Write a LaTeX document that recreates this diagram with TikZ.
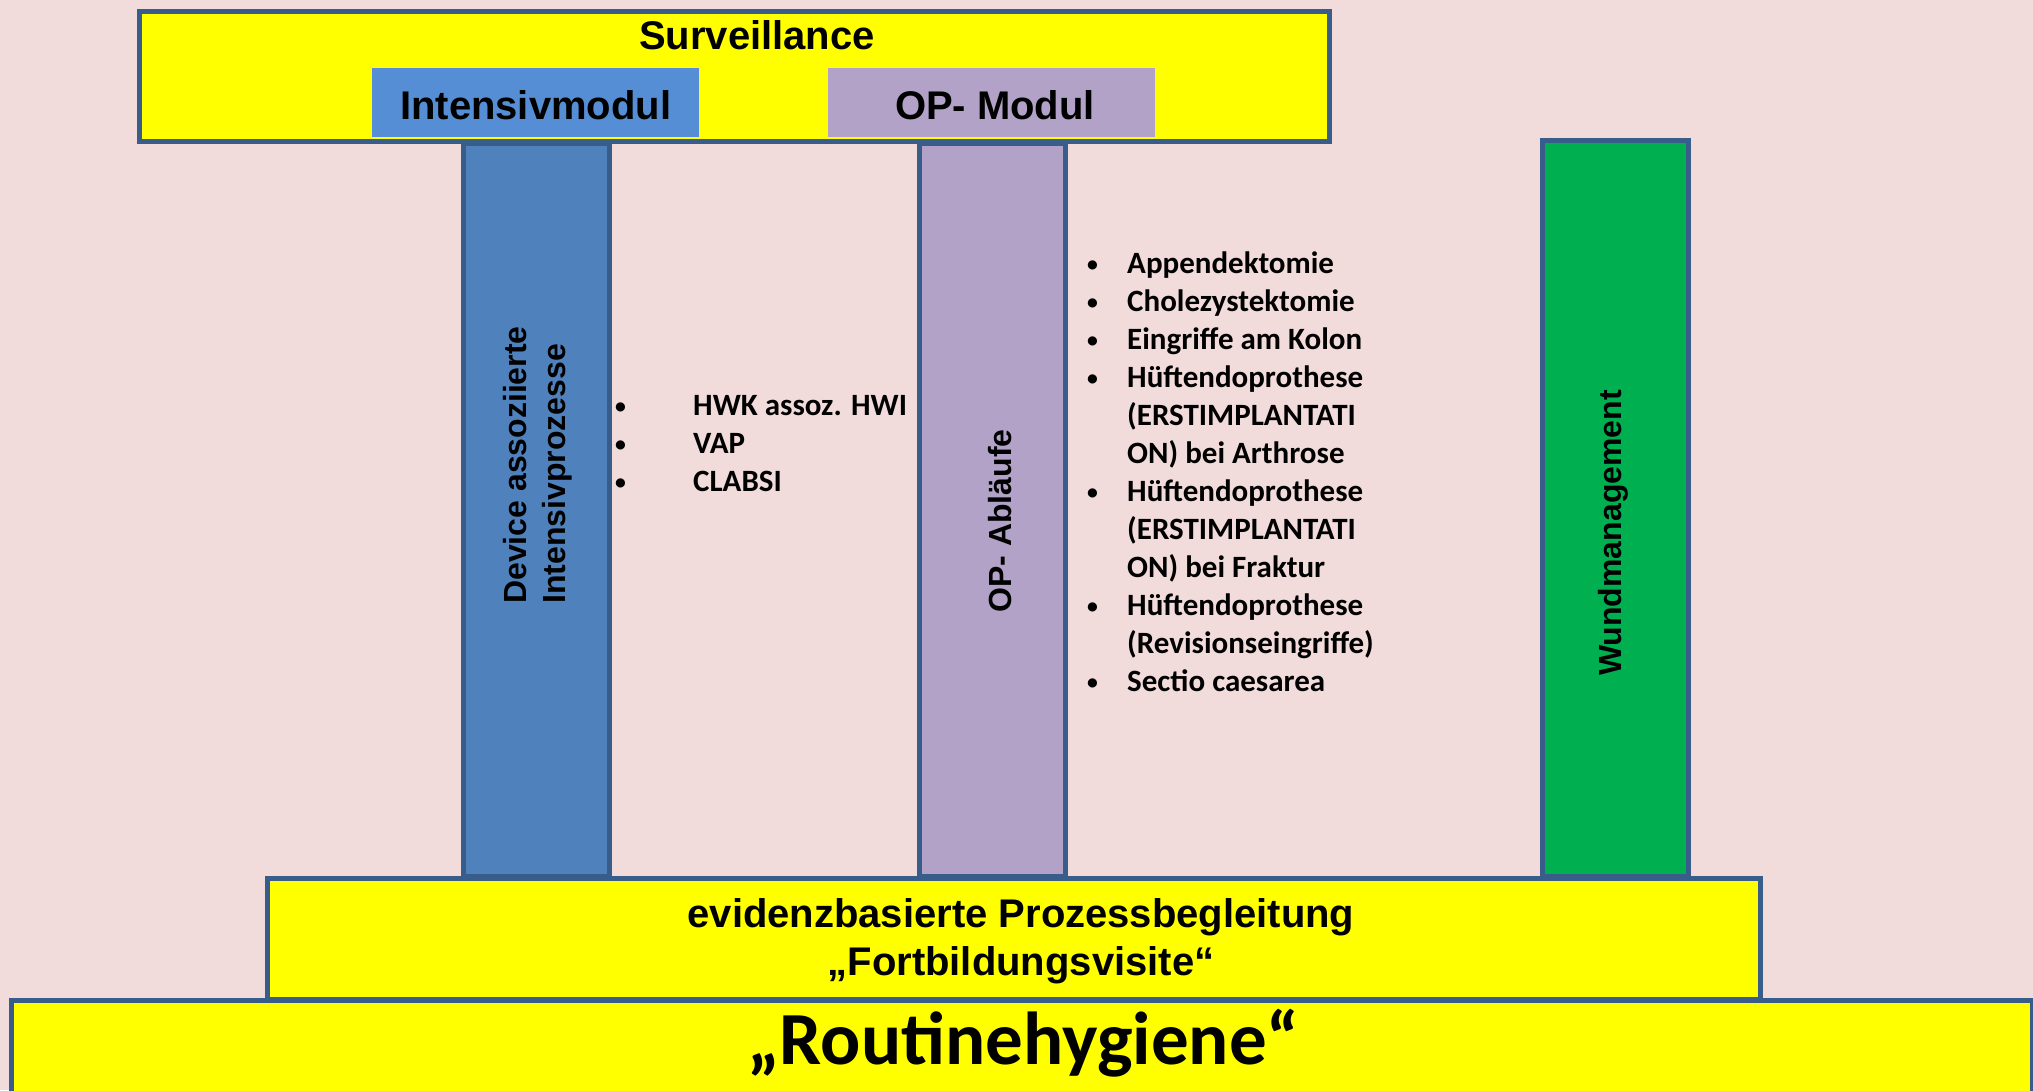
\documentclass[tikz,border=0pt]{standalone}
\usepackage{fontspec}
\setmainfont{Carlito}
\newfontfamily\arialfont{Liberation Sans}
\usetikzlibrary{positioning}

\definecolor{bgpink}{HTML}{F2DCDB}
\definecolor{rimblue}{HTML}{385D8A}
\definecolor{baryellow}{HTML}{FFFF00}
\definecolor{headblue}{HTML}{558ED5}
\definecolor{pilblue}{HTML}{4F81BD}
\definecolor{oplila}{HTML}{B3A2C7}
\definecolor{wundgreen}{HTML}{00B050}

\tikzset{
  box/.style={draw=rimblue, line width=5pt, fill=baryellow, inner sep=0pt, anchor=north west},
  pillar/.style={box, fill=#1, minimum width=146pt, minimum height=733pt},
  modhead/.style={fill=#1, inner sep=0pt, anchor=north west, minimum width=327pt, minimum height=69pt},
  head/.style={inner sep=0pt, anchor=base, font=\arialfont\bfseries\fontsize{40}{48}\selectfont},
  vlabel/.style={rotate=90, inner sep=0pt, align=left, font=\arialfont\bfseries\fontsize{32}{39}\selectfont},
  item/.style={inner sep=0pt, anchor=base west, font=\bfseries\fontsize{31}{38}\selectfont},
}
\newcommand{\smalldot}{\raisebox{2pt}{\scalebox{0.7}{\textbullet}}}
\newcommand{\dotA}{\makebox[78pt][l]{\smalldot}}
\newcommand{\dotB}{\makebox[40pt][l]{\smalldot}}

\begin{document}
\begin{tikzpicture}[x=1pt, y=-1pt]
\useasboundingbox (0,0) rectangle (2033,1090);
\fill[bgpink] (0,0) rectangle (2033,1090);

% top bar with the two modules
\node[box, minimum width=1190pt, minimum height=130pt] (surv) at (136.5,9) {};
\node[modhead=headblue] (intmod) at (372,68) {};
\node[modhead=oplila] (opmod) at (828,68) {};

% pillars
\node[pillar=pilblue] (intpil) at (461,141) {};
\node[pillar=oplila] (oppil) at (917,141) {};
\node[pillar=wundgreen, minimum height=736pt] (wundpil) at (1539.5,138) {};

% base
\node[box, minimum width=1493pt, minimum height=121pt] (evid) at (265,876) {};
\node[box, minimum width=2021pt, minimum height=110pt] (routine) at (9,997.5) {};

% labels
\node[head] (survtxt) at (757,49) {Surveillance};
\node[head] (inttxt) at (intmod.center |- 0,119) {Intensivmodul};
\node[head] (optxt) at (995,119) {OP- Modul};
\node[vlabel] (inttxtv) at (538,465) {Device assoziierte\\Intensivprozesse};
\node[vlabel] (optxtv) at (1000,521) {OP- Abläufe};
\node[vlabel] (wundtxt) at (1613,533) {Wundmanagement};
\node[head] (evid1) at (1021,927) {evidenzbasierte Prozessbegleitung};
\node[head] (evid2) at (1021,975) {„Fortbildungsvisite“};
\node[inner sep=0pt, anchor=base, font=\bfseries\fontsize{75}{80}\selectfont] (routtxt) at (1023,1064) {„Routinehygiene“};

% intensiv list
\node[item] (hwk) at (615,415) {\dotA HWK assoz. HWI};
\node[item] (vap) at (615,453) {\dotA VAP};
\node[item] (clabsi) at (615,491) {\dotA CLABSI};

% OP list
\node[item] (op1) at (1087,273) {\dotB Appendektomie};
\node[item] (op2) at (1087,311) {\dotB Cholezystektomie};
\node[item] (op3) at (1087,349) {\dotB Eingriffe am Kolon};
\node[item] (op4) at (1087,387) {\dotB Hüftendoprothese};
\node[item] (op4b) at (1127,425) {(ERSTIMPLANTATI};
\node[item] (op4c) at (1127,463) {ON) bei Arthrose};
\node[item] (op5) at (1087,501) {\dotB Hüftendoprothese};
\node[item] (op5b) at (1127,539) {(ERSTIMPLANTATI};
\node[item] (op5c) at (1127,577) {ON) bei Fraktur};
\node[item] (op6) at (1087,615) {\dotB Hüftendoprothese};
\node[item] (op6b) at (1127,653) {(Revisionseingriffe)};
\node[item] (op7) at (1087,691) {\dotB Sectio caesarea};
\end{tikzpicture}
\end{document}
